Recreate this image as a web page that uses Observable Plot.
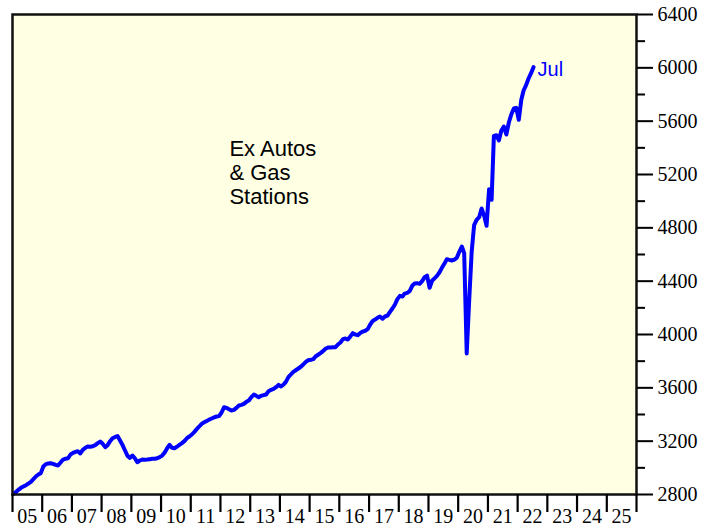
<!DOCTYPE html>
<html>
<head>
<meta charset="utf-8">
<script src="https://cdn.jsdelivr.net/npm/d3@7"></script>
<script src="https://cdn.jsdelivr.net/npm/@observablehq/plot@0.6"></script>
<style>
  html, body { margin: 0; padding: 0; background: white; }
</style>
</head>
<body>
<div id="chart"></div>
<script>
// Monthly values (ex autos & gas stations), Jan 2005 – Jul 2022
const v2005 = [2805, 2820, 2835, 2850, 2860, 2870, 2882, 2895, 2915, 2935, 2950, 2960];
const v2006 = [3010, 3028, 3032, 3035, 3030, 3022, 3018, 3040, 3062, 3068, 3072, 3100];
const v2007 = [3112, 3120, 3125, 3108, 3135, 3150, 3160, 3158, 3162, 3170, 3185, 3197];
const v2008 = [3180, 3155, 3170, 3200, 3222, 3232, 3238, 3205, 3170, 3130, 3090, 3075];
const v2009 = [3092, 3070, 3042, 3055, 3062, 3060, 3062, 3065, 3068, 3068, 3072, 3080];
const v2010 = [3092, 3115, 3145, 3172, 3150, 3147, 3158, 3172, 3185, 3200, 3222, 3235];
const v2011 = [3250, 3270, 3290, 3310, 3330, 3342, 3350, 3362, 3370, 3378, 3385, 3388];
const v2012 = [3415, 3455, 3450, 3440, 3430, 3435, 3450, 3468, 3472, 3480, 3495, 3505];
const v2013 = [3530, 3550, 3540, 3530, 3540, 3545, 3550, 3575, 3585, 3592, 3605, 3622];
const v2014 = [3610, 3625, 3645, 3680, 3700, 3720, 3732, 3745, 3758, 3775, 3795, 3807];
const v2015 = [3810, 3815, 3835, 3848, 3860, 3875, 3893, 3902, 3903, 3905, 3905, 3925];
const v2016 = [3940, 3965, 3970, 3962, 3985, 4010, 4000, 3995, 4012, 4022, 4028, 4040];
const v2017 = [4075, 4102, 4112, 4125, 4135, 4118, 4135, 4142, 4170, 4195, 4225, 4265];
const v2018 = [4290, 4285, 4307, 4312, 4325, 4365, 4382, 4385, 4380, 4400, 4430, 4442];
const v2019 = [4350, 4405, 4420, 4440, 4465, 4500, 4530, 4565, 4560, 4555, 4562, 4575];
const v2020 = [4620, 4660, 4610, 3858, 4250, 4620, 4820, 4860, 4880, 4945, 4892, 4815];
const v2021 = [5090, 5010, 5490, 5495, 5455, 5530, 5560, 5500, 5590, 5650, 5695, 5700];
const v2022 = [5610, 5760, 5830, 5870, 5920, 5960, 6005];

const seriesByYear = [
  [2005, v2005], [2006, v2006], [2007, v2007], [2008, v2008], [2009, v2009],
  [2010, v2010], [2011, v2011], [2012, v2012], [2013, v2013], [2014, v2014],
  [2015, v2015], [2016, v2016], [2017, v2017], [2018, v2018], [2019, v2019],
  [2020, v2020], [2021, v2021], [2022, v2022]
];

// Axis definitions
const yearStart = 2005;
const yearEnd = 2026;            // exclusive end of the x domain
const yMin = 2800, yMax = 6400;
const yMajorStep = 400, yMinorStep = 200;

// Annotations
const lastLabel = "Jul";
const noteText = "Ex Autos\n& Gas\nStations";
const noteDate = new Date(Date.UTC(2012, 3, 20));
const noteValue = 5470;

// Build table
const data = [];
for (const [yr, vals] of seriesByYear) {
  vals.forEach((v, m) => data.push({date: new Date(Date.UTC(yr, m, 15)), value: v}));
}
const last = data[data.length - 1];

const yearBounds = d3.range(yearStart, yearEnd + 1).map(y => new Date(Date.UTC(y, 0, 1)));
const yearMids = d3.range(yearStart, yearEnd).map(y => new Date(Date.UTC(y, 6, 2)));
const yMajor = d3.range(yMin, yMax + 1, yMajorStep);
const yMinor = d3.range(yMin + yMinorStep, yMax, yMajorStep);

const chart = Plot.plot({
  width: 717,
  height: 529,
  marginLeft: 12,
  marginRight: 81,
  marginTop: 14,
  marginBottom: 35,
  style: {fontFamily: "'Liberation Serif', 'Times New Roman', serif", fontSize: "20px", background: "white", color: "black"},
  x: {type: "utc", domain: [yearBounds[0], yearBounds[yearBounds.length - 1]], label: null},
  y: {domain: [yMin, yMax], label: null},
  marks: [
    Plot.frame({fill: "#FFFFE3", stroke: "none"}),
    Plot.line(data, {x: "date", y: "value", stroke: "#0000FF", strokeWidth: 4, strokeLinejoin: "round", strokeLinecap: "round"}),
    Plot.text([last], {x: "date", y: "value", text: () => lastLabel, dx: 4, dy: 2, textAnchor: "start", fill: "#0000FF",
      fontFamily: "'Liberation Sans', Arial, sans-serif", fontSize: 20}),
    Plot.text([{date: noteDate, value: noteValue, text: noteText}], {x: "date", y: "value", text: "text", textAnchor: "start",
      lineAnchor: "top", lineHeight: 1.1, fill: "black", fontFamily: "'Liberation Sans', Arial, sans-serif", fontSize: 22}),
    Plot.frame({stroke: "#111", strokeWidth: 2.5, fill: "none"}),
    // x: year boundary ticks
    Plot.axisX({anchor: "bottom", ticks: yearBounds, tickSize: 18, strokeWidth: 2.2, tickFormat: () => ""}),
    // x: year labels centered in each year
    Plot.axisX({anchor: "bottom", ticks: yearMids, tickSize: 0, tickPadding: 14, tickFormat: d3.utcFormat("%y"), fontSize: 20}),
    // y: right axis major and minor ticks
    Plot.axisY({anchor: "right", ticks: yMajor, tickSize: 16, tickPadding: 5, strokeWidth: 2, fontSize: 20, tickFormat: d => String(d)}),
    Plot.axisY({anchor: "right", ticks: yMinor, tickSize: 8, strokeWidth: 2, tickFormat: () => ""})
  ]
});
document.getElementById("chart").appendChild(chart);
</script>
</body>
</html>
